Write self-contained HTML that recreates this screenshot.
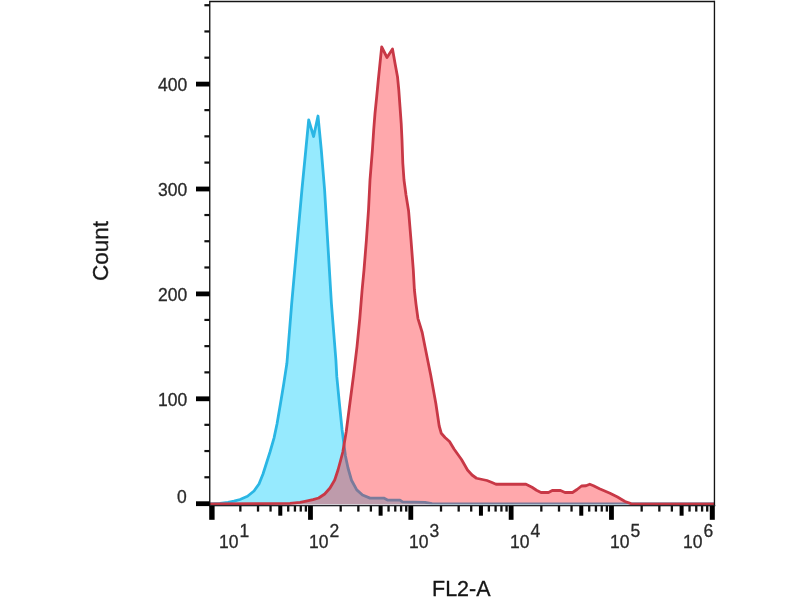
<!DOCTYPE html>
<html><head><meta charset="utf-8"><style>
html,body{margin:0;padding:0;background:#fff;}
body{width:800px;height:600px;position:relative;overflow:hidden;font-family:"Liberation Sans",sans-serif;-webkit-font-smoothing:antialiased;}
.yl,.xl,.ttl{will-change:transform;-webkit-text-stroke:0.3px currentColor;}
svg{position:absolute;left:0;top:0;}
.yl{position:absolute;right:613px;font-size:17.5px;line-height:20px;color:#2a2a2a;text-align:right;}
.xl{position:absolute;top:531.5px;font-size:17.5px;line-height:20px;color:#2a2a2a;white-space:nowrap;}
.xl span{position:relative;top:-11.5px;margin-left:1px;}
.ttl{position:absolute;font-size:21.5px;line-height:24px;color:#151515;white-space:nowrap;}
</style></head><body>
<svg width="800" height="600" viewBox="0 0 800 600">
<rect width="800" height="600" fill="#fff"/>
<polygon points="210.00,503.80 220.00,503.40 228.00,502.40 234.00,501.20 240.00,499.50 247.50,496.25 254.00,491.00 259.00,484.00 263.00,474.00 266.50,463.00 270.00,452.00 274.00,438.10 277.00,424.00 280.50,403.40 283.60,384.70 286.90,363.30 291.70,303.30 296.80,246.70 301.90,190.00 305.80,150.00 308.70,120.00 313.60,136.50 318.00,116.00 321.30,150.00 324.60,190.00 328.00,246.70 331.40,303.30 335.90,360.00 336.80,376.70 339.40,403.40 342.10,430.00 345.40,455.75 348.00,468.00 351.50,480.25 356.75,489.90 362.50,495.00 370.00,498.10 383.75,498.10 387.50,500.00 400.00,500.20 402.50,501.90 425.00,502.30 432.00,503.60 460.00,503.80 714.00,503.80 714.00,504.20 210.00,504.20" fill="#96eafe"/>
<clipPath id="cb"><rect x="0" y="0" width="800" height="504.3"/></clipPath>
<polyline points="210.00,503.80 220.00,503.40 228.00,502.40 234.00,501.20 240.00,499.50 247.50,496.25 254.00,491.00 259.00,484.00 263.00,474.00 266.50,463.00 270.00,452.00 274.00,438.10 277.00,424.00 280.50,403.40 283.60,384.70 286.90,363.30 291.70,303.30 296.80,246.70 301.90,190.00 305.80,150.00 308.70,120.00 313.60,136.50 318.00,116.00 321.30,150.00 324.60,190.00 328.00,246.70 331.40,303.30 335.90,360.00 336.80,376.70 339.40,403.40 342.10,430.00 345.40,455.75 348.00,468.00 351.50,480.25 356.75,489.90 362.50,495.00 370.00,498.10 383.75,498.10 387.50,500.00 400.00,500.20 402.50,501.90 425.00,502.30 432.00,503.60 460.00,503.80 714.00,503.80" fill="none" stroke="#2ab6e4" stroke-width="2.8" stroke-linejoin="round" clip-path="url(#cb)"/>
<polygon points="210.00,503.80 260.00,503.60 290.00,503.30 300.10,502.40 306.25,501.10 313.00,499.60 318.70,498.00 324.70,494.00 330.00,488.00 334.70,480.00 338.00,470.00 340.70,460.00 342.80,452.00 346.20,431.70 349.90,403.30 353.60,375.00 357.00,346.70 359.80,318.30 362.10,290.00 364.00,270.00 366.40,240.00 368.50,210.00 370.00,180.00 372.40,150.00 373.70,130.00 375.00,113.30 376.70,96.70 378.30,80.00 380.00,63.30 381.70,47.00 387.00,57.50 392.50,49.00 395.00,63.30 397.50,76.70 398.80,90.00 400.00,106.70 401.20,123.30 402.00,140.00 402.80,163.00 404.00,180.00 406.00,195.00 408.60,211.00 411.00,240.00 413.30,270.00 414.40,290.00 416.00,304.20 417.90,318.30 422.20,332.50 425.00,346.70 430.70,375.00 435.80,403.30 439.20,426.00 441.25,433.25 445.00,437.50 449.50,441.50 454.00,449.00 461.50,459.50 467.50,470.00 472.00,475.00 476.50,478.25 487.00,480.50 492.00,482.50 496.00,484.25 526.00,484.25 532.00,487.25 536.50,490.25 541.00,492.50 548.50,492.50 552.25,490.50 560.50,490.50 565.00,492.50 572.50,492.50 577.00,489.50 581.50,486.00 586.00,485.75 589.75,484.25 593.50,485.75 599.50,488.75 610.00,493.25 617.50,497.00 625.00,501.50 631.00,503.60 714.00,503.80 714.00,504.20 210.00,504.20" fill="rgb(255,26,37)" fill-opacity="0.38"/>
<polyline points="210.00,503.80 260.00,503.60 290.00,503.30 300.10,502.40 306.25,501.10 313.00,499.60 318.70,498.00 324.70,494.00 330.00,488.00 334.70,480.00 338.00,470.00 340.70,460.00 342.80,452.00 346.20,431.70 349.90,403.30 353.60,375.00 357.00,346.70 359.80,318.30 362.10,290.00 364.00,270.00 366.40,240.00 368.50,210.00 370.00,180.00 372.40,150.00 373.70,130.00 375.00,113.30 376.70,96.70 378.30,80.00 380.00,63.30 381.70,47.00 387.00,57.50 392.50,49.00 395.00,63.30 397.50,76.70 398.80,90.00 400.00,106.70 401.20,123.30 402.00,140.00 402.80,163.00 404.00,180.00 406.00,195.00 408.60,211.00 411.00,240.00 413.30,270.00 414.40,290.00 416.00,304.20 417.90,318.30 422.20,332.50 425.00,346.70 430.70,375.00 435.80,403.30 439.20,426.00 441.25,433.25 445.00,437.50 449.50,441.50 454.00,449.00 461.50,459.50 467.50,470.00 472.00,475.00 476.50,478.25 487.00,480.50 492.00,482.50 496.00,484.25 526.00,484.25 532.00,487.25 536.50,490.25 541.00,492.50 548.50,492.50 552.25,490.50 560.50,490.50 565.00,492.50 572.50,492.50 577.00,489.50 581.50,486.00 586.00,485.75 589.75,484.25 593.50,485.75 599.50,488.75 610.00,493.25 617.50,497.00 625.00,501.50 631.00,503.60 714.00,503.80" fill="none" stroke="#c83846" stroke-width="2.8" stroke-linejoin="round"/>
<path d="M209.75,506.00 V1.50 H714.45" fill="none" stroke="#141414" stroke-width="1.35"/>
<path d="M714.45,0.70 V506.00" fill="none" stroke="#141414" stroke-width="1.35"/>
<rect x="208.95" y="504.9" width="506.30" height="1.4" fill="#26262c"/>
<rect x="196" y="501.30" width="13.75" height="4.8" fill="#000"/>
<rect x="204.4" y="476.17" width="5.35" height="2.2" fill="#111"/>
<rect x="204.4" y="449.95" width="5.35" height="2.2" fill="#111"/>
<rect x="204.4" y="423.72" width="5.35" height="2.2" fill="#111"/>
<rect x="196" y="396.40" width="13.75" height="4.8" fill="#000"/>
<rect x="204.4" y="371.27" width="5.35" height="2.2" fill="#111"/>
<rect x="204.4" y="345.05" width="5.35" height="2.2" fill="#111"/>
<rect x="204.4" y="318.82" width="5.35" height="2.2" fill="#111"/>
<rect x="196" y="291.50" width="13.75" height="4.8" fill="#000"/>
<rect x="204.4" y="266.38" width="5.35" height="2.2" fill="#111"/>
<rect x="204.4" y="240.15" width="5.35" height="2.2" fill="#111"/>
<rect x="204.4" y="213.93" width="5.35" height="2.2" fill="#111"/>
<rect x="196" y="186.60" width="13.75" height="4.8" fill="#000"/>
<rect x="204.4" y="161.48" width="5.35" height="2.2" fill="#111"/>
<rect x="204.4" y="135.25" width="5.35" height="2.2" fill="#111"/>
<rect x="204.4" y="109.03" width="5.35" height="2.2" fill="#111"/>
<rect x="196" y="81.70" width="13.75" height="4.8" fill="#000"/>
<rect x="204.4" y="56.58" width="5.35" height="2.2" fill="#111"/>
<rect x="204.4" y="30.35" width="5.35" height="2.2" fill="#111"/>
<rect x="204.4" y="4.13" width="5.35" height="2.2" fill="#111"/>
<rect x="209.20" y="505.90" width="5.40" height="13.90" fill="#000"/>
<rect x="239.20" y="505.90" width="2.3" height="5.70" fill="#111"/>
<rect x="256.87" y="505.90" width="2.3" height="5.70" fill="#111"/>
<rect x="269.40" y="505.90" width="2.3" height="5.70" fill="#111"/>
<rect x="278.28" y="505.90" width="4" height="9.80" fill="#000"/>
<rect x="287.07" y="505.90" width="2.3" height="5.70" fill="#111"/>
<rect x="293.79" y="505.90" width="2.3" height="5.70" fill="#111"/>
<rect x="299.61" y="505.90" width="2.3" height="5.70" fill="#111"/>
<rect x="304.74" y="505.90" width="2.3" height="5.70" fill="#111"/>
<rect x="308.08" y="505.90" width="4.80" height="13.90" fill="#000"/>
<rect x="339.53" y="505.90" width="2.3" height="5.70" fill="#111"/>
<rect x="357.20" y="505.90" width="2.3" height="5.70" fill="#111"/>
<rect x="369.73" y="505.90" width="2.3" height="5.70" fill="#111"/>
<rect x="378.61" y="505.90" width="4" height="9.80" fill="#000"/>
<rect x="387.40" y="505.90" width="2.3" height="5.70" fill="#111"/>
<rect x="394.12" y="505.90" width="2.3" height="5.70" fill="#111"/>
<rect x="399.94" y="505.90" width="2.3" height="5.70" fill="#111"/>
<rect x="405.07" y="505.90" width="2.3" height="5.70" fill="#111"/>
<rect x="408.41" y="505.90" width="4.80" height="13.90" fill="#000"/>
<rect x="439.86" y="505.90" width="2.3" height="5.70" fill="#111"/>
<rect x="457.53" y="505.90" width="2.3" height="5.70" fill="#111"/>
<rect x="470.06" y="505.90" width="2.3" height="5.70" fill="#111"/>
<rect x="478.94" y="505.90" width="4" height="9.80" fill="#000"/>
<rect x="487.73" y="505.90" width="2.3" height="5.70" fill="#111"/>
<rect x="494.45" y="505.90" width="2.3" height="5.70" fill="#111"/>
<rect x="500.27" y="505.90" width="2.3" height="5.70" fill="#111"/>
<rect x="505.40" y="505.90" width="2.3" height="5.70" fill="#111"/>
<rect x="508.74" y="505.90" width="4.80" height="13.90" fill="#000"/>
<rect x="540.19" y="505.90" width="2.3" height="5.70" fill="#111"/>
<rect x="557.86" y="505.90" width="2.3" height="5.70" fill="#111"/>
<rect x="570.39" y="505.90" width="2.3" height="5.70" fill="#111"/>
<rect x="579.27" y="505.90" width="4" height="9.80" fill="#000"/>
<rect x="588.06" y="505.90" width="2.3" height="5.70" fill="#111"/>
<rect x="594.78" y="505.90" width="2.3" height="5.70" fill="#111"/>
<rect x="600.60" y="505.90" width="2.3" height="5.70" fill="#111"/>
<rect x="605.73" y="505.90" width="2.3" height="5.70" fill="#111"/>
<rect x="609.07" y="505.90" width="4.80" height="13.90" fill="#000"/>
<rect x="640.52" y="505.90" width="2.3" height="5.70" fill="#111"/>
<rect x="658.19" y="505.90" width="2.3" height="5.70" fill="#111"/>
<rect x="670.72" y="505.90" width="2.3" height="5.70" fill="#111"/>
<rect x="679.60" y="505.90" width="4" height="9.80" fill="#000"/>
<rect x="688.39" y="505.90" width="2.3" height="5.70" fill="#111"/>
<rect x="695.11" y="505.90" width="2.3" height="5.70" fill="#111"/>
<rect x="700.93" y="505.90" width="2.3" height="5.70" fill="#111"/>
<rect x="706.06" y="505.90" width="2.3" height="5.70" fill="#111"/>
<rect x="709.80" y="505.90" width="5.00" height="13.90" fill="#000"/>
</svg>
<div class="yl" style="top:389.9px">100</div>
<div class="yl" style="top:285.0px">200</div>
<div class="yl" style="top:180.1px">300</div>
<div class="yl" style="top:75.2px">400</div>
<div class="yl" style="top:486.5px">0</div>
<div class="xl" style="left:218.6px">10<span>1</span></div>
<div class="xl" style="left:309.1px">10<span>2</span></div>
<div class="xl" style="left:409.1px">10<span>3</span></div>
<div class="xl" style="left:509.6px">10<span>4</span></div>
<div class="xl" style="left:610.1px">10<span>5</span></div>
<div class="xl" style="left:682.6px">10<span>6</span></div>
<div class="ttl" style="left:431.5px;top:577px;">FL2-A</div>
<div class="ttl" style="left:71px;top:239px;font-size:22.5px;transform:rotate(-90deg);transform-origin:center;">Count</div>
</body></html>
